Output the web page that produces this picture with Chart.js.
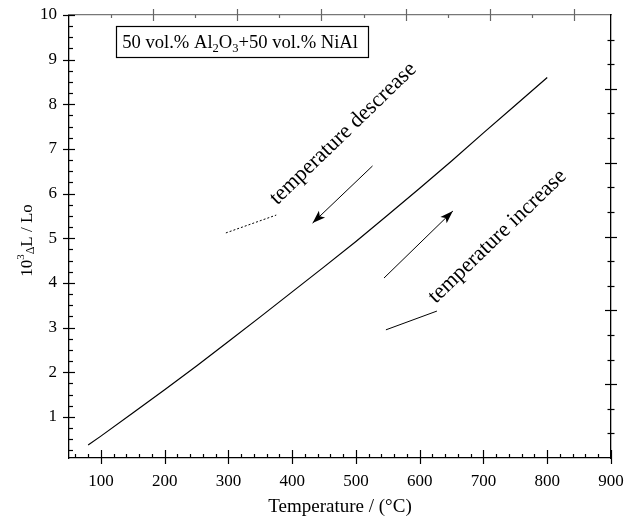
<!DOCTYPE html>
<html>
<head>
<meta charset="utf-8">
<script src="https://cdn.jsdelivr.net/npm/chart.js@4.4.1/dist/chart.umd.min.js"></script>
<style>
html,body{margin:0;padding:0;background:#fff;}
#wrap{width:637px;height:520px;}
</style>
</head>
<body>
<div id="wrap"><canvas id="c" width="637" height="520"></canvas></div>
<script>
// ---- data ----
const temps = [80, 100, 150, 200, 250, 300, 350, 400, 450, 500, 550, 600, 650, 700, 750, 800];
const strain = [0.37, 0.57, 1.09, 1.61, 2.14, 2.69, 3.24, 3.80, 4.36, 4.93, 5.52, 6.12, 6.73, 7.36, 7.98, 8.60];
const xTickLabels = [100, 200, 300, 400, 500, 600, 700, 800, 900];
const yTickLabels = [1, 2, 3, 4, 5, 6, 7, 8, 9, 10];
// annotation guide lines (data coordinates)
const dottedX = [296, 375];
const dottedY = [5.12, 5.52];
const solidX = [547, 627];
const solidY = [2.95, 3.37];
const descArrowX = [526, 432];
const descArrowY = [6.62, 5.34];
const incArrowX = [544, 652];
const incArrowY = [4.11, 5.61];
// text annotations
const boxText = ['50 vol.% Al', '2', 'O', '3', '+50 vol.% NiAl'];
const boxCorner = {x1: 124, y1: 9.75, x2: 519, y2: 9.06};
const descLabel = {text: 'temperature descrease', x: 480, y: 7.34};
const incLabel = {text: 'temperature increase', x: 722, y: 5.04};

const pts = (xs, ys) => xs.map((x, i) => ({x: x, y: ys[i]}));
const FONT = '"Liberation Serif", "Times New Roman", serif';

const axisPlugin = {
  id: 'axisDeco',
  afterDraw(chart) {
    const ctx = chart.ctx;
    const xs = chart.scales.x, ys = chart.scales.y, x2 = chart.scales.x2, y2 = chart.scales.y2;
    const ca = chart.chartArea;
    ctx.save();
    ctx.lineWidth = 1.2;
    ctx.strokeStyle = '#000';
    // bottom ticks
    const xb = ca.bottom;
    for (let v = 60; v <= 900; v += 20) {
      const px = Math.round(xs.getPixelForValue(v)) + 0.5;
      const major = v % 100 === 0;
      ctx.beginPath();
      ctx.moveTo(px, major ? xb + 6 : xb);
      ctx.lineTo(px, major ? xb - 8 : xb - 4);
      ctx.stroke();
    }
    // left ticks
    const yl = ca.left;
    for (let k = 1; k <= 40; k++) {
      const v = k * 0.25;
      const py = Math.round(ys.getPixelForValue(v)) + 0.5;
      const major = k % 4 === 0;
      ctx.beginPath();
      ctx.moveTo(major ? yl - 6 : yl, py);
      ctx.lineTo(major ? yl + 6 : yl + 4, py);
      ctx.stroke();
    }
    // right ticks
    const yr = ca.right;
    for (let k = 1; k < 18; k++) {
      const v = k / 3;
      const py = Math.round(y2.getPixelForValue(v)) + 0.5;
      const major = k % 3 === 0;
      ctx.beginPath();
      ctx.moveTo(yr - (major ? 6 : 3.5), py);
      ctx.lineTo(yr + (major ? 6 : 3.5), py);
      ctx.stroke();
    }
    // top ticks (grey)
    ctx.strokeStyle = '#666';
    const xt = ca.top;
    for (let k = 1; k <= 12; k++) {
      const v = k * 0.5;
      const px = Math.round(x2.getPixelForValue(v)) + 0.5;
      const major = k % 2 === 0;
      ctx.beginPath();
      ctx.moveTo(px, major ? xt - 6 : xt);
      ctx.lineTo(px, major ? xt + 6 : xt + 3);
      ctx.stroke();
    }
    // arrowheads
    ctx.fillStyle = '#000';
    chart.data.datasets.forEach((ds, i) => {
      if (!ds.arrow) return;
      const meta = chart.getDatasetMeta(i);
      const n = meta.data.length;
      const a = meta.data[n - 2], b = meta.data[n - 1];
      const ang = Math.atan2(b.y - a.y, b.x - a.x);
      ctx.save();
      ctx.translate(b.x, b.y);
      ctx.rotate(ang);
      ctx.beginPath();
      ctx.moveTo(0, 0);
      ctx.lineTo(-13, -4.5);
      ctx.lineTo(-10, 0);
      ctx.lineTo(-13, 4.5);
      ctx.closePath();
      ctx.fill();
      ctx.restore();
    });
    // annotation box
    const bx1 = xs.getPixelForValue(boxCorner.x1), bx2 = xs.getPixelForValue(boxCorner.x2);
    const by1 = ys.getPixelForValue(boxCorner.y1), by2 = ys.getPixelForValue(boxCorner.y2);
    ctx.strokeStyle = '#000';
    ctx.lineWidth = 1.2;
    ctx.strokeRect(Math.round(bx1) + 0.5, Math.round(by1) + 0.5, Math.round(bx2 - bx1), Math.round(by2 - by1));
    ctx.textBaseline = 'alphabetic';
    ctx.textAlign = 'left';
    let tx = bx1 + 6;
    const tyBase = (by1 + by2) / 2 + 6;
    boxText.forEach((t, i) => {
      const sub = (i === 1 || i === 3);
      ctx.font = (sub ? '12.5px ' : '18.6px ') + FONT;
      ctx.fillText(t, tx, tyBase + (sub ? 4 : 0));
      tx += ctx.measureText(t).width;
    });
    // rotated labels
    [descLabel, incLabel].forEach(l => {
      ctx.save();
      ctx.translate(xs.getPixelForValue(l.x), ys.getPixelForValue(l.y));
      ctx.rotate(-44 * Math.PI / 180);
      ctx.font = '22px ' + FONT;
      ctx.textAlign = 'center';
      ctx.textBaseline = 'middle';
      ctx.fillText(l.text, 0, 0);
      ctx.restore();
    });
    // y-axis title: 10^3 ΔL / Lo
    ctx.save();
    ctx.translate(28, (ca.top + ca.bottom) / 2 + 4);
    ctx.rotate(-Math.PI / 2);
    const parts = [
      {t: '10', f: 17, dy: 0},
      {t: '3', f: 11, dy: -7},
      {t: 'Δ', f: 12, dy: 3},
      {t: 'L / Lo', f: 17, dy: 0}
    ];
    let total = 0;
    parts.forEach(p => { ctx.font = p.f + 'px ' + FONT; p.w = ctx.measureText(p.t).width; total += p.w; });
    let cx = -total / 2;
    ctx.textBaseline = 'middle';
    ctx.textAlign = 'left';
    parts.forEach(p => {
      ctx.font = p.f + 'px ' + FONT;
      ctx.fillText(p.t, cx, p.dy);
      cx += p.w;
    });
    ctx.restore();
    ctx.restore();
  }
};

const tickFont = {family: FONT, size: 17};
const noPad = s => { s.paddingTop = 0; s.paddingBottom = 0; s.paddingLeft = 0; s.paddingRight = 0; };

new Chart(document.getElementById('c'), {
  type: 'line',
  data: {
    datasets: [
      {data: pts(temps, strain), borderColor: '#000', borderWidth: 1.2, pointRadius: 0, tension: 0, fill: false},
      {data: pts(dottedX, dottedY), borderColor: '#000', borderWidth: 1, borderDash: [2, 2], pointRadius: 0},
      {data: pts(solidX, solidY), borderColor: '#000', borderWidth: 1, pointRadius: 0},
      {data: pts(descArrowX, descArrowY), borderColor: '#000', borderWidth: 1, pointRadius: 0, arrow: true},
      {data: pts(incArrowX, incArrowY), borderColor: '#000', borderWidth: 1, pointRadius: 0, arrow: true}
    ]
  },
  options: {
    responsive: false,
    animation: false,
    devicePixelRatio: 1,
    layout: {padding: 0},
    plugins: {legend: {display: false}, tooltip: {enabled: false}},
    scales: {
      x: {
        type: 'linear', position: 'bottom', min: 50, max: 900,
        afterFit(s) { s.height = 62; noPad(s); },
        afterBuildTicks(s) { s.ticks = xTickLabels.map(v => ({value: v})); },
        ticks: {font: tickFont, color: '#000', padding: 13, maxRotation: 0, autoSkip: false},
        grid: {drawOnChartArea: false, drawTicks: false},
        border: {color: '#000', width: 1.3},
        title: {display: true, text: 'Temperature / (°C)', font: {family: FONT, size: 19}, color: '#000', padding: {top: 0, bottom: 2}}
      },
      y: {
        type: 'linear', position: 'left', min: 0.08, max: 10,
        afterFit(s) { s.width = 69; noPad(s); },
        afterBuildTicks(s) { s.ticks = yTickLabels.map(v => ({value: v})); },
        ticks: {font: tickFont, color: '#000', padding: 12},
        grid: {drawOnChartArea: false, drawTicks: false},
        border: {color: '#000', width: 1.3}
      },
      x2: {
        type: 'linear', position: 'top', min: 0, max: 6.44,
        afterFit(s) { s.height = 15; noPad(s); },
        ticks: {display: false},
        grid: {drawOnChartArea: false, drawTicks: false},
        border: {color: '#777', width: 1.2}
      },
      y2: {
        type: 'linear', position: 'right', min: 0, max: 6,
        afterFit(s) { s.width = 26; noPad(s); },
        ticks: {display: false},
        grid: {drawOnChartArea: false, drawTicks: false},
        border: {color: '#000', width: 1.3}
      }
    }
  },
  plugins: [axisPlugin]
});
</script>
</body>
</html>
